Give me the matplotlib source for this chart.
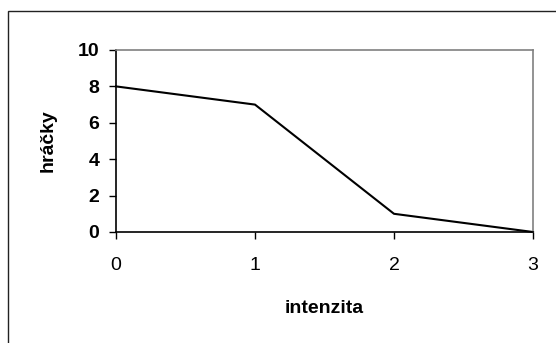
import matplotlib
matplotlib.use('Agg')
import matplotlib.pyplot as plt
from matplotlib.patches import Rectangle

intenzita = [0, 1, 2, 3]
hracky = [8, 7, 1, 0]
x_ticks = [0, 1, 2, 3]
y_ticks = [0, 2, 4, 6, 8, 10]

plt.rcParams['font.family'] = ['Liberation Sans', 'DejaVu Sans']

W, H = 556, 343
fig = plt.figure(figsize=(W / 100, H / 100), dpi=100)
ax = fig.add_axes([116 / W, 1 - 232 / H, (533 - 116) / W, (232 - 50) / H])

# outer chart frame (only left and top edges are inside the picture)
fig.patches.append(Rectangle((7.5 / W, -0.1), 1.2, 1 - 10.5 / H + 0.1,
                             transform=fig.transFigure, fill=False,
                             edgecolor='#222222', linewidth=1.0))

ax.plot(intenzita, hracky, color='black', linewidth=1.5, clip_on=False)

ax.set_xlim(0, 3)
ax.set_ylim(0, 10)
ax.set_xticks(x_ticks)
ax.set_yticks(y_ticks)
ax.tick_params(axis='y', direction='out', length=5, width=1, pad=7, labelsize=14)
ax.tick_params(axis='x', direction='out', length=5, width=1, pad=13, labelsize=14)
for lbl in ax.get_yticklabels():
    lbl.set_fontweight('bold')

ax.spines['left'].set_color('black')
ax.spines['bottom'].set_color('black')
ax.spines['top'].set_color('#808080')
ax.spines['right'].set_color('#808080')
for s in ax.spines.values():
    s.set_linewidth(1.2)

ax.set_xlabel('intenzita', fontsize=14, fontweight='bold', labelpad=19)
ax.set_ylabel('hráčky', fontsize=14, fontweight='bold', labelpad=15)

fig.savefig('out.png', dpi=100)
